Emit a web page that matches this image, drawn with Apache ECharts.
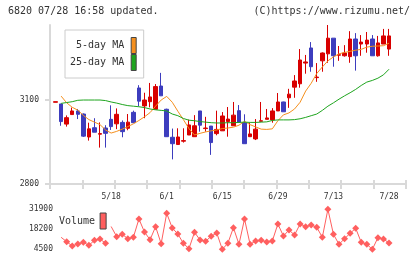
<!DOCTYPE html>
<html><head><meta charset="utf-8">
<script src="https://cdn.jsdelivr.net/npm/echarts@6/dist/echarts.min.js"></script>
<style>html,body{margin:0;padding:0;background:#fff}#c{width:420px;height:259px}</style>
</head><body><div id="c"></div>
<script>
// ---- data ----
const tickLabels = ['5/18', '6/1', '6/15', '6/29', '7/13', '7/28'];
const labelFirst = 10, labelStep = 10; // candle index of first label, candles between labels
const priceOpen  = [3092,3086,3014,3048,3061,3050,2968,3001,2978,3000, 3031,3015,3020,2999,3056,3143,3079,3094,3067,3150, 3067,2967,2941,2953,2975,2969,3061,2998,3007,2980, 2990,3023,3008,3062,3019,2969,2961,3024,3031,3029, 3061,3093,3108,3146,3158,3232,3286,3180,3240,3265, 3321,3260,3258,3255,3318,3300,3300,3318,3258,3300, 3282];
const priceClose = [3094,3023,3037,3061,3049,2971,2997,2985,2980,2981, 3005,3049,2987,3021,3019,3096,3100,3111,3148,3115, 2969,2944,2968,2955,3011,3008,3010,3000,2948,2995, 3043,3032,3046,3021,2944,2979,2996,3026,3036,3061, 3093,3058,3121,3168,3243,3236,3219,3182,3268,3321, 3258,3262,3268,3318,3258,3307,3314,3258,3304,3329, 3329];
const priceLow   = [3092,3008,3005,3048,3032,2968,2955,2985,2930,2930, 2993,2996,2967,2992,3019,3078,3035,3074,3067,3115, 2968,2888,2941,2948,2975,2969,2987,2987,2904,2974, 2990,2969,3008,3021,2944,2969,2957,3024,3031,3019, 3061,3058,3072,3108,3144,3194,3201,3165,3201,3233, 3219,3240,3255,3233,3205,3258,3269,3258,3255,3300, 3258];
const priceHigh  = [3094,3086,3045,3073,3068,3052,3019,3035,3020,3010, 3081,3070,3027,3050,3062,3153,3126,3161,3157,3197, 3069,2998,2999,2999,3030,3046,3061,3040,3007,3062, 3057,3075,3093,3082,3049,3018,3032,3093,3068,3071, 3125,3094,3140,3189,3282,3261,3307,3232,3270,3368, 3321,3293,3296,3346,3339,3332,3343,3332,3329,3354, 3354];
const ma5  = [null,3114,3090,3074,3064,3045,3030,3021,3012,2993, 2982,2988,2996,3005,3015,3027,3040,3055,3078,3100, 3113,3092,3060,3030,2998,2975,2981,2986,2990,2993, 2998,3000,3003,3010,3024,3012,3004,2996,2995,2997, 3026,3047,3054,3068,3092,3132,3160,3195,3218,3240, 3254,3265,3270,3274,3278,3281,3289,3292,3293,3294, 3303];
const ma25 = [null,3088,3091,3094,3099,3100,3100,3100,3100,3098, 3093,3089,3084,3080,3078,3076,3073,3068,3065,3063, 3061,3050,3044,3034,3028,3026,3023,3021,3019,3018, 3018,3019,3019,3020,3021,3020,3020,3021,3022,3027, 3029,3029,3029,3030,3033,3038,3044,3050,3063,3078, 3090,3103,3115,3126,3138,3152,3164,3170,3178,3190, 3210];
const volume = [null,12720,9700,6760,8130,9300,7240,10670,11560,8610, 20120,13130,14780,11760,12720,25260,16350,11080,19980,8340, 29160,19090,14980,8610,4910,16150,10870,9980,13470,15670, 4500,8610,19300,7930,25260,7930,10190,10670,9500,10190, 21830,13610,17720,14300,21830,19980,21150,19570,12720,31900, 14780,7930,11760,15460,18890,9300,7930,4500,12450,11560, 8820];
const volumeBreak = 10; // the volume line restarts at this candle
const volumeTicks = [4500, 18200, 31900];
const priceTicks = [2800, 3100];

// ---- build ----
const FONT = 'DejaVu Sans Mono';
const GRAY = '#d9d9d9';
const n = priceOpen.length;
const lead = 1, trail = 3;
const cats = [];
for (let i = 0; i < n + lead + trail; i++) cats.push('k' + i);
const pad = arr => ['-'].concat(arr.map(v => v == null ? '-' : v));
const candles = ['-'];
for (let i = 0; i < n; i++) candles.push([priceOpen[i], priceClose[i], priceLow[i], priceHigh[i]]);

function volSeg(from, to) {
  const d = ['-'];
  for (let i = 0; i < n; i++) {
    if (i < from || i >= to || volume[i] == null) { d.push('-'); continue; }
    const first = (i === from) || (volume[i - 1] == null);
    d.push(first ? { value: volume[i], symbol: 'none' } : volume[i]);
  }
  return d;
}
const plain = v => String(Math.round(v));

const chart = echarts.init(document.getElementById('c'), null, { renderer: 'canvas' });
chart.setOption({
  animation: false,
  backgroundColor: '#fff',
  textStyle: { fontFamily: FONT },
  title: [
    { text: '6820 07/28 16:58 updated.', left: 8, top: 6, padding: 0,
      textStyle: { fontFamily: FONT, fontSize: 10, fontWeight: 'normal', color: '#333' } },
    { text: '(C)https://www.rizumu.net/', right: 10, top: 6, padding: 0,
      textStyle: { fontFamily: FONT, fontSize: 10, fontWeight: 'normal', color: '#333' } }
  ],
  legend: [
    { data: [{ name: '5-day MA', icon: 'rect' }, { name: '25-day MA', icon: 'rect' }],
      orient: 'vertical', align: 'right', left: 65, top: 30, padding: [7, 7, 7, 5],
      itemWidth: 5, itemHeight: 16, itemGap: 0,
      borderColor: '#cccccc', borderWidth: 1, backgroundColor: '#fff',
      itemStyle: { borderColor: '#444', borderWidth: 1 },
      textStyle: { fontFamily: FONT, fontSize: 10, color: '#333', padding: [0, 2, 0, 0] } },
    { data: [{ name: 'Volume', icon: 'rect' }],
      orient: 'vertical', align: 'right', left: 59, top: 212.5, padding: 0,
      itemWidth: 6, itemHeight: 16, itemGap: 0,
      itemStyle: { borderColor: '#444', borderWidth: 1 },
      textStyle: { fontFamily: FONT, fontSize: 10, color: '#333' } }
  ],
  grid: [
    { left: 50, width: 355.7, top: 25, height: 159 },
    { left: 50, width: 355.7, top: 209.3, height: 40 }
  ],
  xAxis: [
    { type: 'category', gridIndex: 0, data: cats, boundaryGap: false,
      axisLine: { lineStyle: { color: GRAY, width: 2 } },
      axisTick: { show: false }, splitLine: { show: false },
      axisLabel: { interval: 0, fontFamily: FONT, fontSize: 8, color: '#333', margin: 9,
        formatter: (v, idx) => {
          const c = idx - lead - labelFirst;
          return (c >= 0 && c % labelStep === 0 && tickLabels[c / labelStep]) ? tickLabels[c / labelStep] : '';
        } } },
    { type: 'value', gridIndex: 0, min: 0, max: 11, interval: 1, position: 'bottom', offset: -4,
      axisLine: { show: false }, axisLabel: { show: false }, splitLine: { show: false },
      axisTick: { show: true, length: 9, lineStyle: { color: GRAY, width: 2 } } },
    { type: 'category', gridIndex: 1, data: cats, boundaryGap: false, show: false }
  ],
  yAxis: [
    { type: 'value', gridIndex: 0, min: priceTicks[0], max: 'dataMax', interval: priceTicks[1] - priceTicks[0], scale: true,
      axisLine: { show: true, lineStyle: { color: GRAY, width: 2 } },
      axisTick: { show: true, length: 5, lineStyle: { color: GRAY, width: 2 } },
      splitLine: { show: false },
      axisLabel: { fontFamily: FONT, fontSize: 8, color: '#333', margin: 11, showMaxLabel: false, formatter: plain } },
    { type: 'value', gridIndex: 1, min: volumeTicks[0], max: volumeTicks[2], interval: volumeTicks[1] - volumeTicks[0],
      axisLine: { show: false }, axisTick: { show: false }, splitLine: { show: false },
      axisLabel: { fontFamily: FONT, fontSize: 8, color: '#333', margin: -3, formatter: plain } }
  ],
  series: [
    { type: 'candlestick', name: 'price', xAxisIndex: 0, yAxisIndex: 0, data: candles, barWidth: 4,
      itemStyle: { color: '#d80000', color0: '#3d3dbe', borderColor: '#d80000', borderColor0: '#3d3dbe', borderWidth: 1 } },
    { type: 'line', name: '5-day MA', xAxisIndex: 0, yAxisIndex: 0, data: pad(ma5), showSymbol: false,
      color: '#f5901e', lineStyle: { width: 1, color: '#f5901e' } },
    { type: 'line', name: '25-day MA', xAxisIndex: 0, yAxisIndex: 0, data: pad(ma25), showSymbol: false,
      color: '#1ea51e', lineStyle: { width: 1, color: '#1ea51e' } },
    { type: 'line', name: 'Volume', xAxisIndex: 2, yAxisIndex: 1, data: volSeg(0, volumeBreak),
      symbol: 'diamond', symbolSize: 7, showAllSymbol: true, color: '#ff5f5f',
      lineStyle: { width: 1, color: '#ff5f5f' }, itemStyle: { color: '#ff5f5f' } },
    { type: 'line', name: 'Volume', xAxisIndex: 2, yAxisIndex: 1, data: volSeg(volumeBreak, n),
      symbol: 'diamond', symbolSize: 7, showAllSymbol: true, color: '#ff5f5f',
      lineStyle: { width: 1, color: '#ff5f5f' }, itemStyle: { color: '#ff5f5f' } }
  ]
});
</script>
</body></html>
